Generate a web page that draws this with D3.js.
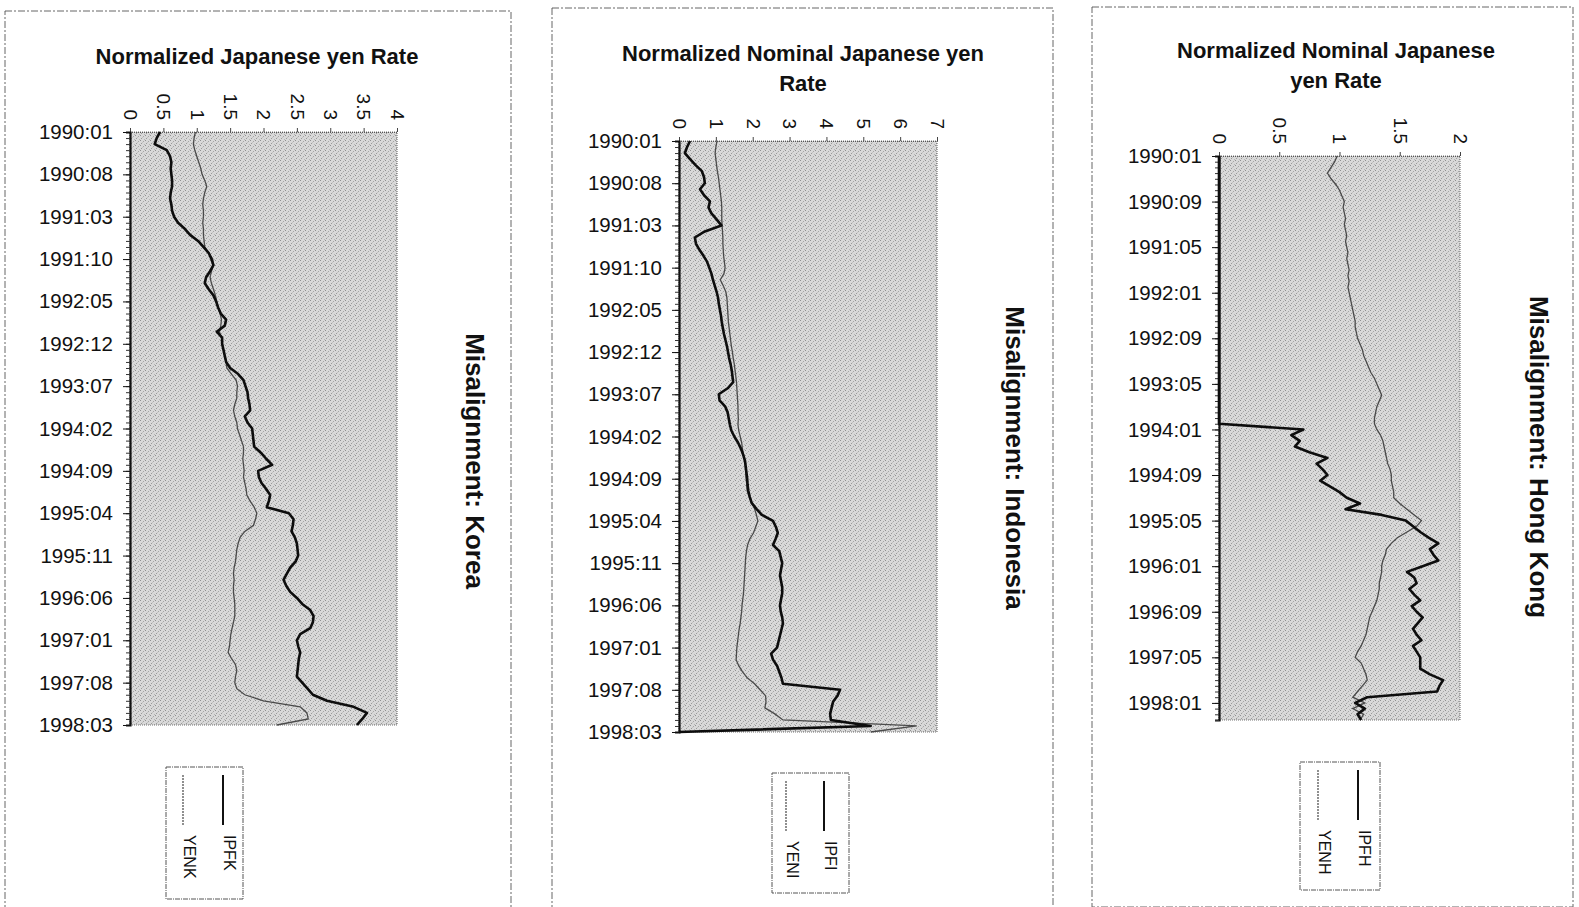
<!DOCTYPE html>
<meta charset="utf-8">
<style>
    body {
        margin: 0;
        overflow: hidden;
        background: #fff;
    }
    text {
        font-family: "Liberation Sans", Arial, sans-serif;
        fill: #111;
    }
</style>
<svg id="canvas" width="1579" height="907"></svg>
<script src="https://d3js.org/d3.v7.min.js"></script>
<script>

    // ---- data ----
    var ipfk = [0.45, 0.40, 0.37, 0.55, 0.60, 0.62, 0.61, 0.62, 0.63, 0.63,
                0.61, 0.60, 0.62, 0.63, 0.66, 0.72, 0.82, 0.90, 1.02, 1.10,
                1.18, 1.22, 1.25, 1.20, 1.14, 1.12, 1.18, 1.25, 1.29, 1.32,
                1.36, 1.44, 1.42, 1.30, 1.38, 1.38, 1.40, 1.42, 1.44, 1.50,
                1.62, 1.70, 1.73, 1.76, 1.77, 1.79, 1.80, 1.72, 1.76, 1.83,
                1.84, 1.85, 1.86, 1.96, 2.04, 2.13, 1.92, 1.93, 1.97, 2.04,
                2.10, 2.08, 2.05, 2.38, 2.45, 2.44, 2.42, 2.47, 2.50, 2.51,
                2.52, 2.48, 2.40, 2.35, 2.30, 2.34, 2.40, 2.50, 2.58, 2.70,
                2.75, 2.74, 2.70, 2.55, 2.50, 2.52, 2.55, 2.53, 2.52, 2.51,
                2.50, 2.58, 2.66, 2.74, 2.95, 3.35, 3.55, 3.48, 3.40];
    var yenk = [0.98, 0.96, 0.95, 0.97, 1.00, 1.03, 1.06, 1.08, 1.12, 1.15,
                1.12, 1.10, 1.09, 1.10, 1.10, 1.09, 1.10, 1.10, 1.11, 1.12,
                1.18, 1.24, 1.25, 1.22, 1.20, 1.22, 1.25, 1.28, 1.30, 1.32,
                1.35, 1.37, 1.36, 1.34, 1.37, 1.38, 1.40, 1.42, 1.44, 1.45,
                1.52, 1.59, 1.61, 1.60, 1.60, 1.57, 1.55, 1.57, 1.60, 1.61,
                1.64, 1.67, 1.70, 1.70, 1.69, 1.70, 1.71, 1.70, 1.72, 1.74,
                1.75, 1.80, 1.86, 1.90, 1.88, 1.85, 1.72, 1.65, 1.62, 1.60,
                1.59, 1.58, 1.56, 1.55, 1.56, 1.55, 1.55, 1.56, 1.57, 1.57,
                1.57, 1.55, 1.53, 1.51, 1.50, 1.49, 1.47, 1.52, 1.58, 1.60,
                1.58, 1.57, 1.60, 1.72, 2.00, 2.55, 2.65, 2.67, 2.20];

    var ipfi = [0.30, 0.22, 0.16, 0.30, 0.45, 0.62, 0.68, 0.70, 0.57, 0.68,
                0.84, 0.80, 0.88, 1.02, 1.15, 0.70, 0.43, 0.46, 0.55, 0.66,
                0.76, 0.82, 0.88, 0.92, 0.97, 1.02, 1.06, 1.08, 1.11, 1.14,
                1.16, 1.19, 1.22, 1.26, 1.30, 1.33, 1.36, 1.40, 1.43, 1.45,
                1.47, 1.32, 1.08, 1.10, 1.25, 1.32, 1.35, 1.38, 1.42, 1.50,
                1.60, 1.68, 1.74, 1.79, 1.81, 1.83, 1.85, 1.86, 1.88, 1.92,
                1.97, 2.10, 2.25, 2.55, 2.63, 2.68, 2.62, 2.55, 2.72, 2.76,
                2.80, 2.77, 2.74, 2.77, 2.80, 2.80, 2.77, 2.74, 2.76, 2.80,
                2.82, 2.78, 2.74, 2.70, 2.66, 2.50, 2.55, 2.66, 2.72, 2.78,
                2.82, 4.37, 4.30, 4.18, 4.14, 4.10, 4.12, 5.20, 0.00];
    var yeni = [1.03, 1.00, 0.98, 1.00, 1.02, 1.04, 1.07, 1.09, 1.11, 1.13,
                1.15, 1.16, 1.16, 1.16, 1.17, 1.18, 1.19, 1.19, 1.20, 1.21,
                1.23, 1.25, 1.22, 1.12, 1.20, 1.27, 1.30, 1.31, 1.32, 1.33,
                1.34, 1.36, 1.38, 1.40, 1.42, 1.45, 1.47, 1.50, 1.52, 1.54,
                1.56, 1.57, 1.58, 1.59, 1.60, 1.60, 1.61, 1.60, 1.62, 1.66,
                1.70, 1.72, 1.75, 1.77, 1.80, 1.81, 1.82, 1.84, 1.85, 1.90,
                1.98, 2.05, 2.10, 2.14, 2.08, 2.02, 1.92, 1.86, 1.83, 1.81,
                1.80, 1.79, 1.78, 1.77, 1.76, 1.75, 1.73, 1.71, 1.70, 1.68,
                1.66, 1.63, 1.61, 1.59, 1.57, 1.56, 1.55, 1.62, 1.72, 1.85,
                2.05, 2.20, 2.35, 2.36, 2.33, 2.60, 2.82, 6.45, 5.20];

    var ipfh = [0, 0, 0, 0, 0, 0, 0, 0, 0, 0,
                0, 0, 0, 0, 0, 0, 0, 0, 0, 0,
                0, 0, 0, 0, 0, 0, 0, 0, 0, 0,
                0, 0, 0, 0, 0, 0, 0, 0, 0, 0,
                0, 0, 0, 0, 0, 0, 0, 0, 0.70, 0.60,
                0.67, 0.63, 0.75, 0.90, 0.81, 0.86, 0.90, 0.84, 0.92, 1.00,
                1.06, 1.17, 1.05, 1.35, 1.55, 1.61, 1.67, 1.74, 1.82, 1.75,
                1.78, 1.82, 1.69, 1.56, 1.62, 1.64, 1.58, 1.62, 1.67, 1.60,
                1.64, 1.69, 1.65, 1.61, 1.64, 1.68, 1.61, 1.64, 1.67, 1.67,
                1.67, 1.75, 1.86, 1.83, 1.81, 1.23, 1.13, 1.21, 1.15, 1.18];
    var yenh = [0.98, 0.96, 0.93, 0.90, 0.93, 0.97, 1.00, 1.02, 1.04, 1.03,
                1.04, 1.05, 1.04, 1.05, 1.06, 1.05, 1.06, 1.07, 1.06, 1.07,
                1.08, 1.07, 1.08, 1.07, 1.08, 1.09, 1.10, 1.11, 1.12, 1.13,
                1.13, 1.14, 1.15, 1.17, 1.19, 1.20, 1.22, 1.24, 1.26, 1.29,
                1.31, 1.33, 1.35, 1.33, 1.31, 1.30, 1.29, 1.29, 1.31, 1.34,
                1.36, 1.37, 1.38, 1.39, 1.40, 1.42, 1.43, 1.43, 1.44, 1.45,
                1.45, 1.50, 1.56, 1.62, 1.68, 1.64, 1.56, 1.48, 1.43, 1.39,
                1.38, 1.36, 1.35, 1.35, 1.34, 1.33, 1.33, 1.32, 1.31, 1.29,
                1.27, 1.25, 1.24, 1.23, 1.22, 1.20, 1.18, 1.15, 1.13, 1.18,
                1.20, 1.22, 1.23, 1.19, 1.15, 1.11, 1.21, 1.11, 1.20, 1.17];

    var labels7 = ["1990:01", "1990:08", "1991:03", "1991:10", "1992:05", "1992:12",
                   "1993:07", "1994:02", "1994:09", "1995:04", "1995:11", "1996:06",
                   "1997:01", "1997:08", "1998:03"];
    var labels8 = ["1990:01", "1990:09", "1991:05", "1992:01", "1992:09", "1993:05",
                   "1994:01", "1994:09", "1995:05", "1996:01", "1996:09", "1997:05",
                   "1998:01"];

    var ticksKorea = [0, 0.5, 1, 1.5, 2, 2.5, 3, 3.5, 4];
    var ticksIndo = [0, 1, 2, 3, 4, 5, 6, 7];
    var ticksHK = [0, 0.5, 1, 1.5, 2];

    // monthly categories, same length as the series
    var monthList = function(n) {
        var out = [];
        for (let k = 0; k < n; k++) {
            let y = 1990 + Math.floor(k / 12), m = (k % 12) + 1;
            out.push(y + ":" + (m < 10 ? "0" + m : m));
        }
        return out;
    };

    var svg = d3.select("svg");

    // scanned-looking grey stipple for the plot areas
    var defs = svg.append("defs");
    var pat = defs.append("pattern").attr("id", "stip")
                  .attr("width", 5).attr("height", 5)
                  .attr("patternUnits", "userSpaceOnUse");
    pat.append("rect").attr("width", 5).attr("height", 5).attr("fill", "#d9d9d9");
    [[0, 0, "#8f8f8f"], [3, 1, "#a5a5a5"], [1, 3, "#9a9a9a"], [4, 4, "#b4b4b4"], [2, 2, "#c2c2c2"]]
        .forEach(function(d) {
            pat.append("rect").attr("x", d[0]).attr("y", d[1])
               .attr("width", 1).attr("height", 1).attr("fill", d[2]);
        });

    var panels = [
        {box: [5, 11, 506, 900], plot: [130, 132, 397, 725], max: 4, ticks: ticksKorea,
         labels: labels7, title: ["Normalized Japanese yen Rate"], titleX: 257, titleY: 64,
         side: "Misalignment: Korea", sideX: 475, sideY: 461,
         series: [["IPFK", ipfk], ["YENK", yenk]],
         legend: [166, 767, 77, 132], legX: [230, 190]},
        {box: [552, 8, 501, 900], plot: [679, 141, 937, 732], max: 7, ticks: ticksIndo,
         labels: labels7, title: ["Normalized Nominal Japanese yen", "Rate"], titleX: 803, titleY: 61,
         side: "Misalignment: Indonesia", sideX: 1015, sideY: 458,
         series: [["IPFI", ipfi], ["YENI", yeni]],
         legend: [772, 773, 77, 120], legX: [831, 793]},
        {box: [1092, 7, 481, 900], plot: [1219, 156, 1460, 720], max: 2, ticks: ticksHK,
         labels: labels8, title: ["Normalized Nominal Japanese", "yen  Rate"], titleX: 1336, titleY: 58,
         side: "Misalignment: Hong Kong", sideX: 1539, sideY: 457,
         series: [["IPFH", ipfh], ["YENH", yenh]],
         legend: [1300, 762, 80, 128], legX: [1365, 1325]}
    ];

    panels.forEach(function(p) {
        var g = svg.append("g");
        var cats = monthList(p.series[0][1].length);

        // outer frame
        g.append("rect")
         .attr("x", p.box[0]).attr("y", p.box[1])
         .attr("width", p.box[2]).attr("height", p.box[3])
         .attr("fill", "none").attr("stroke", "#666")
         .attr("stroke-width", 1).attr("stroke-dasharray", "7,2,2,2");

        var x = d3.scaleLinear().domain([0, p.max]).range([p.plot[0], p.plot[2]]);
        var y = d3.scalePoint().domain(cats).range([p.plot[1], p.plot[3]]);

        g.append("rect")
         .attr("x", p.plot[0]).attr("y", p.plot[1])
         .attr("width", p.plot[2] - p.plot[0]).attr("height", p.plot[3] - p.plot[1])
         .attr("fill", "url(#stip)")
         .attr("stroke", "#777").attr("stroke-width", 1.2).attr("stroke-dasharray", "1,1");

        // top value axis, labels turned a quarter clockwise
        var top = g.append("g")
                   .attr("transform", "translate(0," + p.plot[1] + ")")
                   .call(d3.axisTop(x).tickValues(p.ticks).tickSize(4).tickFormat(d3.format("")));
        top.select(".domain").attr("stroke", "#555").attr("stroke-dasharray", "1,1");
        top.selectAll(".tick line").attr("stroke", "#444");
        top.selectAll(".tick text")
           .attr("font-size", 19).attr("fill", "#111")
           .attr("text-anchor", "end")
           .attr("transform", "translate(0,-12) rotate(90)")
           .attr("x", 0).attr("y", 0).attr("dy", "0.35em");

        // left category axis: small monthly ticks + labelled ones
        var left = g.append("g")
                    .attr("transform", "translate(" + p.plot[0] + ",0)")
                    .call(d3.axisLeft(y).tickSize(4).tickFormat(""));
        left.select(".domain").attr("stroke", "#111").attr("stroke-width", 2.2);
        left.selectAll(".tick line").attr("stroke", "#333");

        var lab = g.append("g")
                   .attr("transform", "translate(" + p.plot[0] + ",0)")
                   .call(d3.axisLeft(y).tickValues(p.labels).tickSize(7).tickPadding(10));
        lab.select(".domain").remove();
        lab.selectAll(".tick line").attr("stroke", "#111");
        lab.selectAll(".tick text").attr("font-size", 20.5).attr("fill", "#111");

        // series
        var line = d3.line()
                     .x(function(d) { return x(d); })
                     .y(function(d, i) { return y(cats[i]); });
        g.append("path").datum(p.series[1][1])
         .attr("d", line).attr("fill", "none")
         .attr("stroke", "#4a4a4a").attr("stroke-width", 1.3);
        g.append("path").datum(p.series[0][1])
         .attr("d", line).attr("fill", "none")
         .attr("stroke", "#0d0d0d").attr("stroke-width", 2.6)
         .attr("stroke-linejoin", "round");

        // title
        p.title.forEach(function(t, k) {
            g.append("text")
             .attr("x", p.titleX).attr("y", p.titleY + k * 30)
             .attr("text-anchor", "middle")
             .attr("font-size", 22).attr("font-weight", "bold")
             .text(t);
        });

        // side label
        g.append("text")
         .attr("transform", "translate(" + p.sideX + "," + p.sideY + ") rotate(90)")
         .attr("text-anchor", "middle").attr("dy", "0.35em")
         .attr("font-size", 26).attr("font-weight", "bold")
         .text(p.side);

        // legend
        var L = p.legend;
        g.append("rect")
         .attr("x", L[0]).attr("y", L[1]).attr("width", L[2]).attr("height", L[3])
         .attr("fill", "#fff").attr("stroke", "#555").attr("stroke-dasharray", "5,1,1,1");
        p.series.forEach(function(s, k) {
            var cx = p.legX[k];
            g.append("line")
             .attr("x1", cx - 7).attr("x2", cx - 7)
             .attr("y1", L[1] + 8).attr("y2", L[1] + 58)
             .attr("stroke", k === 0 ? "#111" : "#555")
             .attr("stroke-width", k === 0 ? 2 : 1.3)
             .attr("stroke-dasharray", k === 0 ? null : "2,1");
            g.append("text")
             .attr("transform", "translate(" + cx + "," + (L[1] + 68) + ") rotate(90)")
             .attr("dy", "0.35em")
             .attr("font-size", 16)
             .text(s[0]);
        });
    });

</script>
